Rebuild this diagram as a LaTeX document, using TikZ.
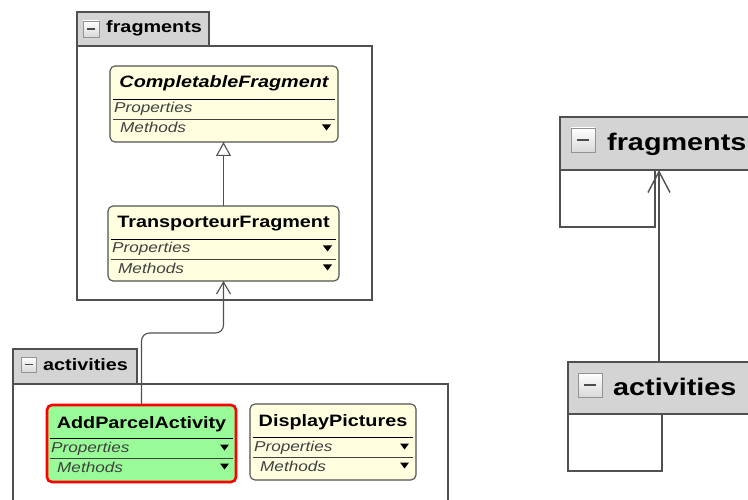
\documentclass[tikz,border=0pt]{standalone}
\usepackage{fontspec}
\newfontfamily\umlfont[FakeStretch=1.2]{Liberation Sans}
\usetikzlibrary{arrows.meta,calc}
\definecolor{classfill}{HTML}{FFFFE0}
\definecolor{activefill}{HTML}{98FB98}
\definecolor{tabfill}{HTML}{D4D4D4}
\definecolor{lineclr}{HTML}{505050}
\definecolor{rowtext}{HTML}{404040}
\tikzset{
  classbox/.style={draw=lineclr, fill=classfill, rounded corners=5pt, line width=1.1pt, inner sep=0pt, outer sep=0pt, anchor=north west},
  activebox/.style={classbox, draw=red, fill=activefill, line width=2.6pt},
  tabbox/.style={draw=lineclr, fill=tabfill, line width=1.1pt, inner sep=0pt, outer sep=0pt, anchor=north west},
  bigtabbox/.style={tabbox, line width=2pt},
  pkgbody/.style={draw=lineclr, line width=1.1pt, inner sep=0pt, outer sep=0pt, anchor=north west},
  bigpkgbody/.style={pkgbody, line width=2pt},
  minusbox/.style={draw=gray!85, top color=white, bottom color=gray!30, line width=0.8pt, inner sep=0pt, outer sep=0pt, anchor=north west},
  minusdash/.style={draw=gray!60!black, line width=1.2pt},
  titletext/.style={font=\umlfont\fontsize{16.5}{18}\selectfont\bfseries, inner sep=0pt, anchor=base},
  tabtext/.style={font=\umlfont\fontsize{16.5}{18}\selectfont\bfseries, inner sep=0pt, anchor=base west},
  bigtabtext/.style={font=\umlfont\fontsize{24}{26}\selectfont\bfseries, inner sep=0pt, anchor=base west},
  rowtxt/.style={font=\umlfont\fontsize{14.3}{16}\selectfont\itshape, text=rowtext, inner sep=0pt, anchor=base west},
  titlesep/.style={draw=black, line width=0.9pt},
  rowsep/.style={draw=black!75, line width=0.9pt},
  conn/.style={draw=lineclr, line width=1.1pt, -{Straight Barb[length=12pt,width=14pt]}},
  inherit/.style={draw=lineclr, line width=1.1pt, -{Triangle[open,length=14pt,width=15pt,fill=white]}},
  bigconn/.style={draw=lineclr, line width=1.4pt, -{Straight Barb[length=21pt,width=22pt]}}
}
\newcommand\umlrows[2]{%
  \draw[titlesep] ([xshift=3pt,yshift=-33pt]#1.north west) -- ([xshift=-3pt,yshift=-33pt]#1.north east);
  \draw[rowsep] ([xshift=3pt,yshift=-53pt]#1.north west) -- ([xshift=-3pt,yshift=-53pt]#1.north east);
  \node[rowtxt] (#1-p) at ([xshift=4pt,yshift=-47pt]#1.north west) {Properties};
  \node[rowtxt] (#1-m) at ([xshift=10pt,yshift=-67pt]#1.north west) {Methods};
  \fill ([xshift=-16pt,yshift=-58.5pt]#1.north east) -- ++(9pt,0) -- ++(-4.5pt,-6pt) -- cycle;
  \ifnum#2=1 \fill ([xshift=-16pt,yshift=-39.5pt]#1.north east) -- ++(9pt,0) -- ++(-4.5pt,-6pt) -- cycle;\fi
}
\begin{document}
\begin{tikzpicture}[x=1pt,y=-1pt]
\useasboundingbox (0,0) rectangle (748,500);
\clip (0,0) rectangle (748,500);
\fill[white] (0,0) rectangle (748,500);

% ---------- left: fragments package ----------
\node[pkgbody, minimum width=295pt, minimum height=254pt] (lfragbody) at (77,46) {};
\node[tabbox, minimum width=132pt, minimum height=34pt] (lfragtab) at (77,12) {};
\node[minusbox, minimum size=16pt] (lfragminus) at (83,21) {};
\draw[minusdash] ([xshift=-4pt]lfragminus.center) -- ([xshift=4pt]lfragminus.center);
\node[tabtext] (lfraglabel) at (106,33) {fragments};

\node[classbox, minimum width=228pt, minimum height=76pt] (cf) at (110,66) {};
\node[titletext] (cf-t) at ([yshift=-22pt]cf.north) {\itshape CompletableFragment};
\umlrows{cf}{0}

\node[classbox, minimum width=231pt, minimum height=75pt] (tf) at (108,206) {};
\node[titletext] (tf-t) at ([yshift=-22pt]tf.north) {TransporteurFragment};
\umlrows{tf}{1}

\draw[inherit] (tf.north) -- (tf.north |- cf.south);

% ---------- left: activities package ----------
\node[pkgbody, minimum width=435pt, minimum height=140pt] (lactbody) at (13,384) {};
\node[tabbox, minimum width=124pt, minimum height=35pt] (lacttab) at (13,349) {};
\node[minusbox, minimum size=15pt] (lactminus) at (21,357) {};
\draw[minusdash] ([xshift=-4pt]lactminus.center) -- ([xshift=4pt]lactminus.center);
\node[tabtext] (lactlabel) at (43,370) {activities};

\node[activebox, minimum width=189pt, minimum height=77pt] (ap) at (47,405) {};
\node[titletext] (ap-t) at ([yshift=-23pt]ap.north) {AddParcelActivity};
\umlrows{ap}{1}

\node[classbox, minimum width=166pt, minimum height=76pt] (dp) at (250,404) {};
\node[titletext] (dp-t) at ([yshift=-22pt]dp.north) {DisplayPictures};
\umlrows{dp}{1}

\coordinate (lbend) at (0,333);
\draw[conn, rounded corners=8pt] (ap.north) -- (ap.north |- lbend) -- (tf.south |- lbend) -- (tf.south);

% ---------- right: collapsed packages ----------
\node[bigpkgbody, minimum width=95pt, minimum height=57pt] (rfragbody) at (560,170) {};
\node[bigtabbox, minimum width=220pt, minimum height=53pt] (rfragtab) at (560,117) {};
\node[minusbox, minimum size=24pt] (rfragminus) at (571,128) {};
\draw[minusdash, line width=1.8pt] ([xshift=-6pt]rfragminus.center) -- ([xshift=6pt]rfragminus.center);
\node[bigtabtext] (rfraglabel) at (607,151) {fragments};

\node[bigpkgbody, minimum width=94pt, minimum height=57pt] (ractbody) at (568,414) {};
\node[bigtabbox, minimum width=220pt, minimum height=52pt] (racttab) at (568,362) {};
\node[minusbox, minimum size=24pt] (ractminus) at (578,373) {};
\draw[minusdash, line width=1.8pt] ([xshift=-6pt]ractminus.center) -- ([xshift=6pt]ractminus.center);
\node[bigtabtext] (ractlabel) at (613,395) {activities};

\coordinate (rs) at ([xshift=91pt]racttab.north west);
\draw[bigconn] (rs) -- (rs |- rfragtab.south);
\end{tikzpicture}
\end{document}
